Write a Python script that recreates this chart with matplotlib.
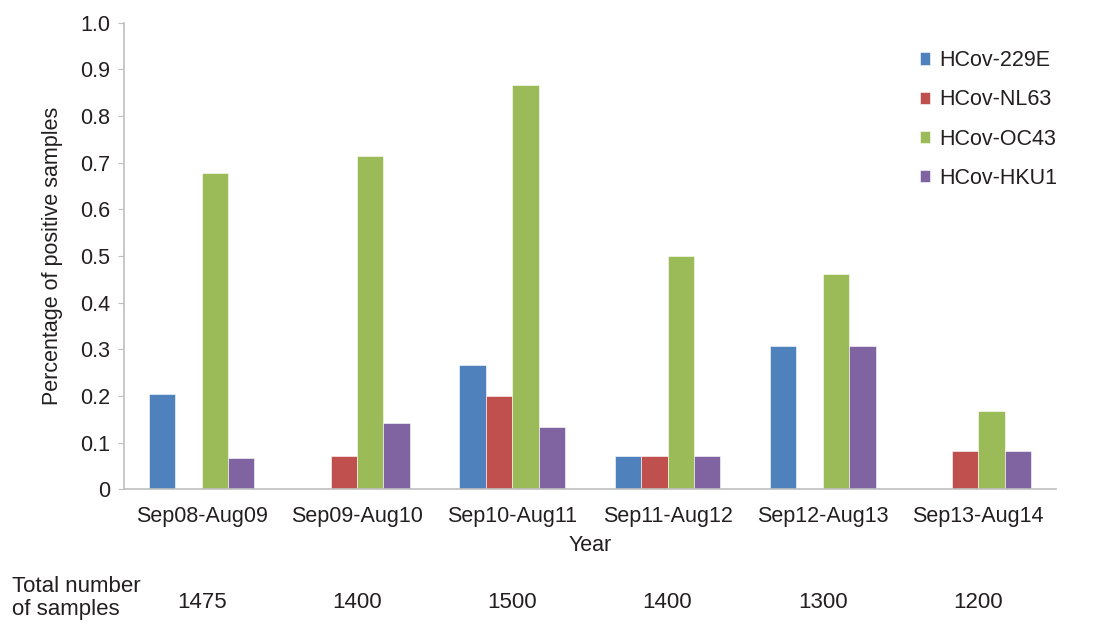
import matplotlib.pyplot as plt
import numpy as np

plt.rcParams['font.family'] = ['Liberation Sans', 'DejaVu Sans']

years = ['Sep08-Aug09', 'Sep09-Aug10', 'Sep10-Aug11',
         'Sep11-Aug12', 'Sep12-Aug13', 'Sep13-Aug14']
totals = [1475, 1400, 1500, 1400, 1300, 1200]
series = ['HCov-229E', 'HCov-NL63', 'HCov-OC43', 'HCov-HKU1']
v229e = [0.204, 0.0, 0.266, 0.071, 0.308, 0.0]
vnl63 = [0.0, 0.071, 0.200, 0.071, 0.0, 0.083]
voc43 = [0.678, 0.714, 0.867, 0.500, 0.462, 0.167]
vhku1 = [0.068, 0.143, 0.133, 0.071, 0.308, 0.083]
colors = ['#4F81BD', '#C0504D', '#9BBB59', '#8064A2']

txt = '#231F20'
fs = 15.5
fig = plt.figure(figsize=(10.93, 6.22), dpi=100)
ax = fig.add_axes([0.1134, 0.2133, 0.8526, 0.7502])

ind = np.arange(len(years))
width = 0.17
for i, (name, vals) in enumerate(zip(series, [v229e, vnl63, voc43, vhku1])):
    ax.bar(ind + (i - 1.5) * width, vals, width, color=colors[i],
           edgecolor='white', linewidth=0.4, label=name)

ax.set_xlim(-0.5, len(years) - 0.5)
ax.set_ylim(0, 1.0)
ax.set_yticks(np.arange(0, 1.01, 0.1))
ax.set_yticklabels(['0'] + ['%.1f' % v for v in np.arange(0.1, 1.01, 0.1)])
ax.set_xticks(ind)
ax.set_xticklabels(years)
ax.tick_params(axis='x', length=0, pad=12, labelsize=fs, colors=txt)
ax.tick_params(axis='y', length=4, color='#BFBFBF', pad=6, labelsize=fs,
               labelcolor=txt)
for s in ['top', 'right']:
    ax.spines[s].set_visible(False)
for s in ['left', 'bottom']:
    ax.spines[s].set_color('#BFBFBF')
    ax.spines[s].set_linewidth(1.2)

ax.set_ylabel('Percentage of positive samples', fontsize=fs, color=txt,
              labelpad=12)
ax.set_xlabel('Year', fontsize=fs, color=txt, labelpad=6)

leg = ax.legend(loc='upper right', bbox_to_anchor=(1.022, 0.983), frameon=False,
                fontsize=fs, handlelength=0.5, handleheight=0.5,
                handletextpad=0.4, labelspacing=0.85)
for t in leg.get_texts():
    t.set_color(txt)

# sample totals row under the chart
fig.text(12 / 1093, 1 - 598 / 622, 'Total number\nof samples', fontsize=16,
         color=txt, va='center', ha='left', linespacing=1.08)
for i, n in enumerate(totals):
    xf = ax.transData.transform((i, 0))[0] / fig.bbox.width
    fig.text(xf, 1 - 602 / 622, str(n), fontsize=16, color=txt,
             ha='center', va='center')

fig.savefig('out.png', dpi=100)
